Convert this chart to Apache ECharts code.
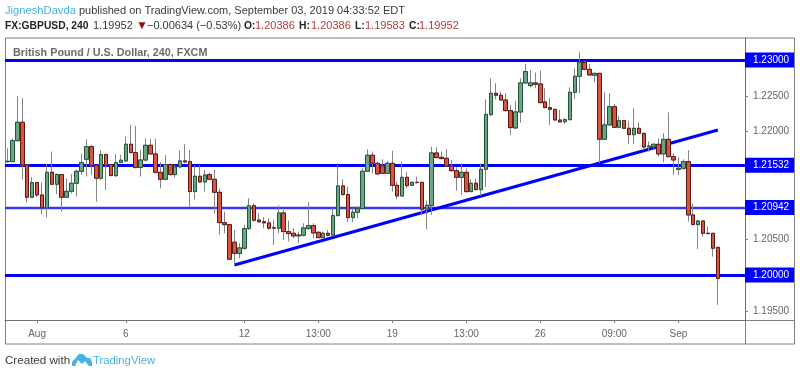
<!DOCTYPE html>
<html>
<head>
<meta charset="utf-8">
<style>html,body{margin:0;padding:0;background:#fff}#main{width:800px;height:376px}</style>
<script src="https://cdn.jsdelivr.net/npm/echarts@6/dist/echarts.min.js"></script>
</head>
<body>
<div id="main"></div>
<script>
// 4h GBPUSD candles
var opens=[1.21582,1.21582,1.21875,1.22131,1.21536,1.21085,1.21289,1.21117,1.20936,1.21433,1.21266,1.21401,1.21085,1.21168,1.2128,1.21447,1.21615,1.21791,1.21531,1.2135,1.2168,1.2154,1.21387,1.21568,1.21592,
1.21824,1.21708,1.21499,1.21605,1.2181,1.21689,1.21433,1.21336,1.2154,1.21401,1.21508,1.21592,1.21582,1.21164,1.21378,1.21299,1.21401,1.21336,1.21154,1.20731,1.20703,1.20457,1.20299,1.20373,1.20648,
1.20968,1.20768,1.20745,1.20727,1.20652,1.20652,1.20866,1.20606,1.20582,1.20545,1.20555,1.20648,1.20689,1.20596,1.20522,1.20582,1.20555,1.20829,1.21243,1.21122,1.20801,1.20875,1.20927,1.21447,1.21671,
1.21558,1.21521,1.21419,1.21558,1.21252,1.21103,1.21363,1.21252,1.21293,1.21293,1.20917,1.20968,1.21703,1.21642,1.21628,1.21521,1.21456,1.21363,1.21433,1.21163,1.2128,1.21191,1.21475,1.22237,
1.22535,1.22508,1.22442,1.22294,1.22052,1.22275,1.2268,1.22642,1.2268,1.22666,1.22415,1.22336,1.22312,1.22163,1.2214,1.22168,1.22549,1.22773,1.22968,1.2287,1.22787,1.22814,1.21894,1.22094,
1.22349,1.22061,1.22154,1.22047,1.21958,1.22047,1.21977,1.21786,1.21791,1.21824,1.21689,1.21893,1.21651,1.21475,1.21489,1.21582,1.20838,1.20703,1.20754,1.20582,1.20582,1.20386];
var closes=[1.21587,1.21875,1.22131,1.21536,1.21085,1.21289,1.21117,1.20936,1.21433,1.21266,1.21401,1.21085,1.21168,1.2128,1.21447,1.21568,1.21791,1.21531,1.2135,1.2168,1.21531,1.21387,1.21568,1.21601,1.21824,
1.21708,1.21499,1.21605,1.2181,1.21689,1.21433,1.21336,1.2154,1.21401,1.21508,1.21592,1.21578,1.21164,1.21378,1.21299,1.21396,1.21336,1.21154,1.20731,1.20703,1.2022,1.20303,1.20378,1.20648,1.20968,
1.20764,1.20741,1.20727,1.20652,1.20662,1.20866,1.20606,1.20578,1.20545,1.20559,1.20657,1.20689,1.20587,1.20522,1.20582,1.20555,1.20829,1.21243,1.21122,1.20801,1.20875,1.20927,1.21447,1.21671,1.21559,
1.2141,1.21419,1.21558,1.21252,1.21103,1.21363,1.21247,1.21293,1.21289,1.20917,1.20973,1.21703,1.21638,1.21624,1.21521,1.21456,1.21363,1.21433,1.21163,1.2128,1.21191,1.21475,1.22242,1.22535,
1.22508,1.22442,1.22294,1.22057,1.22275,1.2268,1.22838,1.2268,1.22661,1.22405,1.22336,1.22312,1.22163,1.22136,1.22168,1.22549,1.22773,1.22968,1.2287,1.22791,1.22814,1.21894,1.22094,1.22349,
1.22061,1.22154,1.22047,1.21958,1.22047,1.21977,1.21786,1.218,1.21824,1.21689,1.21893,1.21651,1.21605,1.21489,1.21582,1.20838,1.20703,1.20754,1.20582,1.20577,1.20373,1.19952];
var highs=[1.21768,1.21908,1.22498,1.22466,1.21536,1.21364,1.21303,1.21289,1.2155,1.21722,1.21419,1.2141,1.2135,1.2141,1.21475,1.21689,1.21894,1.21815,1.21536,1.21745,1.21698,1.2155,1.21689,1.21675,1.21931,
1.22094,1.2208,1.21745,1.21908,1.21894,1.21898,1.21573,1.21671,1.21559,1.21536,1.21736,1.21829,1.21745,1.21526,1.21536,1.21466,1.21429,1.21466,1.2121,1.20885,1.20713,1.20629,1.20443,1.20699,1.21071,
1.21001,1.20861,1.20806,1.20792,1.20768,1.20973,1.20908,1.20759,1.20652,1.20606,1.20722,1.21015,1.20722,1.20606,1.20606,1.20629,1.20931,1.21536,1.21336,1.21233,1.20931,1.20964,1.21489,1.21754,1.21722,
1.21582,1.21614,1.21591,1.21735,1.21303,1.21582,1.21442,1.21303,1.21372,1.21303,1.21038,1.21791,1.21782,1.21721,1.21754,1.21605,1.21503,1.21558,1.21489,1.21335,1.21349,1.21558,1.22451,1.22744,
1.22675,1.22559,1.22535,1.22373,1.22429,1.22745,1.22945,1.22861,1.22824,1.22852,1.22605,1.22466,1.22312,1.22303,1.22187,1.22619,1.22884,1.23107,1.22991,1.22945,1.22824,1.22814,1.22549,1.22535,
1.22386,1.22219,1.22163,1.22154,1.22326,1.2213,1.21977,1.21861,1.21837,1.21907,1.21977,1.2227,1.21698,1.21642,1.21614,1.21744,1.21,1.20768,1.20759,1.20675,1.20582,1.20386];
var lows=[1.21568,1.21582,1.21861,1.21336,1.21015,1.21071,1.21085,1.20848,1.20801,1.21257,1.21131,1.20885,1.21075,1.2114,1.21094,1.21396,1.21373,1.21396,1.21024,1.21326,1.21187,1.21382,1.21364,1.21564,1.21582,
1.21698,1.21489,1.21373,1.21582,1.21685,1.21419,1.2121,1.21326,1.21387,1.21359,1.21489,1.21559,1.20954,1.21057,1.21289,1.21164,1.21326,1.20861,1.20559,1.20583,1.2021,1.20141,1.20234,1.2035,1.20629,
1.20745,1.20736,1.20652,1.20629,1.2042,1.20582,1.20489,1.20466,1.20513,1.20443,1.20536,1.20629,1.20513,1.20513,1.20513,1.20536,1.20536,1.20815,1.21108,1.20745,1.20736,1.20792,1.20917,1.21438,1.21419,
1.21405,1.2141,1.2141,1.21163,1.21056,1.21093,1.2121,1.21242,1.2128,1.20838,1.20638,1.20838,1.21628,1.21614,1.21512,1.21442,1.21177,1.21117,1.21154,1.21159,1.21186,1.21103,1.21224,1.22223,
1.22452,1.22433,1.2228,1.21954,1.22038,1.22126,1.22666,1.22619,1.22605,1.22396,1.22326,1.22094,1.22154,1.22126,1.22108,1.22154,1.22456,1.22535,1.22861,1.22782,1.22689,1.21559,1.21884,1.22084,
1.22047,1.22047,1.22037,1.21824,1.21824,1.21968,1.21744,1.21721,1.21768,1.21651,1.21572,1.21642,1.21396,1.21396,1.21465,1.20745,1.20694,1.20363,1.20535,1.20573,1.20256,1.19583];

var emptyBars=5;
var categories=[];
for(var n=0;n<opens.length+emptyBars;n++){categories.push(String(n));}
var tickIndex=[6,24,48,63,78,93,108,123,136];
var tickText=["Aug","6","12","13:00","19","13:00","26","09:00","Sep"];
var priceTicks=[1.195,1.205,1.22,1.225];
var levelsThick=[1.23,1.21532,1.2];
var levelThin=1.20942;
var trendStart=[46,1.2014];
var trendEnd=[144,1.22024];

var wickData=[],bodyData=[];
for(var i=0;i<opens.length;i++){
  wickData.push([opens[i],closes[i],lows[i],highs[i]]);
  bodyData.push([opens[i],closes[i],Math.min(opens[i],closes[i]),Math.max(opens[i],closes[i])]);
}

var font="Liberation Sans";
function txt(x,y,text,color,size,weight){
  return {type:"text",x:x,y:y,silent:true,style:{text:text,fill:color,font:(weight||"normal")+" "+size+"px '"+font+"'",textVerticalAlign:"middle"}};
}
function ln(x1,y1,x2,y2){
  return {type:"line",silent:true,shape:{x1:x1,y1:y1,x2:x2,y2:y2},style:{stroke:"#808080",lineWidth:1}};
}

function levelLine(v,w,c){
  return {yAxis:v,lineStyle:{color:c,width:w,type:"solid"},
    label:{show:true,position:"end",distance:0,formatter:v.toFixed(5),color:"#fff",fontFamily:font,fontSize:10,
      backgroundColor:"#0000ff",padding:[3,7,2,8],width:34,height:10,lineHeight:10}};
}

var levelData=levelsThick.map(function(v){return levelLine(v,3,"#0000ff");});
levelData.push(levelLine(levelThin,2.4,"#3535ff"));
levelData.push([
  {coord:[trendStart[0],trendStart[1]],lineStyle:{color:"#0000ff",width:3,type:"solid"},label:{show:false}},
  {coord:[trendEnd[0],trendEnd[1]]}
]);

var option={
  animation:false,
  backgroundColor:"#fff",
  grid:{left:5,right:55,top:38,bottom:56},
  xAxis:{
    type:"category",
    data:categories,
    boundaryGap:true,
    axisLine:{show:true,lineStyle:{color:"#6e6e6e"}},
    axisTick:{show:true,length:3,alignWithLabel:true,interval:function(i){return tickIndex.indexOf(i)>=0;},lineStyle:{color:"#808080"}},
    axisLabel:{interval:function(i){return tickIndex.indexOf(i)>=0;},
      formatter:function(v,i){var k=tickIndex.indexOf(i);return k>=0?tickText[k]:"";},
      color:"#666",fontFamily:font,fontSize:10,margin:9},
    splitLine:{show:false}
  },
  yAxis:{
    type:"value",
    position:"right",
    scale:true,
    min:1.19372,
    max:1.23307,
    axisLine:{show:true,lineStyle:{color:"#6e6e6e"}},
    axisTick:{show:true,length:3,customValues:priceTicks.concat(levelsThick,[levelThin]),lineStyle:{color:"#808080"}},
    axisLabel:{customValues:priceTicks,formatter:function(v){return v.toFixed(5);},color:"#666",fontFamily:font,fontSize:10,margin:8,showMinLabel:true,showMaxLabel:true},
    splitLine:{show:false}
  },
  series:[
    {
      name:"wick",type:"candlestick",z:6,barWidth:4,data:wickData,silent:true,
      itemStyle:{color:"rgba(0,0,0,0)",color0:"rgba(0,0,0,0)",borderColor:"#858587",borderColor0:"#858587",borderWidth:1},
      markLine:{silent:true,z:5,symbol:"none",animation:false,precision:5,data:levelData}
    },
    {
      name:"body",type:"candlestick",z:7,barWidth:4,data:bodyData,silent:true,
      itemStyle:{color:"#6ba583",color0:"#d75442",borderColor:"#225437",borderColor0:"#5b1a13",borderWidth:1}
    }
  ],
  graphic:[
    txt(5,11,"JigneshDavda","#45b3e6",11.2),
    txt(79,11,"published on TradingView.com, September 03, 2019 04:33:52 EDT","#3a3a3a",11),
    txt(5,26,"FX:GBPUSD, 240","#222",10.3,"bold"),
    txt(93,26,"1.19952","#3a3a3a",11),
    txt(136,26,"▼","#8b1010",12),
    txt(147,26,"−0.00634 (−0.53%)","#3a3a3a",11),
    txt(244,26,"O:","#222",10.3,"bold"),
    txt(255,26,"1.20386","#b53a3a",11),
    txt(299,26,"H:","#222",10.3,"bold"),
    txt(311,26,"1.20386","#b53a3a",11),
    txt(355,26,"L:","#222",10.3,"bold"),
    txt(365,26,"1.19583","#b53a3a",11),
    txt(409,26,"C:","#222",10.3,"bold"),
    txt(419,26,"1.19952","#b53a3a",11),
    txt(13,53,"British Pound / U.S. Dollar, 240, FXCM","#6b6b6b",10.8,"bold"),
    ln(5.5,38,794.5,38),ln(5.5,38,5.5,344),ln(794.5,38,794.5,344),ln(5.5,344,794.5,344),
    ln(745.5,320,745.5,344),ln(745,320.5,794.5,320.5),
    txt(5,361,"Created with","#3a3a3a",11.6),
    {type:"polygon",silent:true,shape:{points:[[72,366],[72,362],[79,354],[83,354],[87,358],[90,358],[92,362],[92,366],[89,366],[85,361],[82,364],[78,360],[75,366]]},style:{fill:"#45b3e6"}},
    txt(93,361,"TradingView","#45b3e6",11.3)
  ]
};

var myChart=echarts.init(document.getElementById("main"),null,{renderer:"canvas"});
myChart.setOption(option);
</script>
</body>
</html>
